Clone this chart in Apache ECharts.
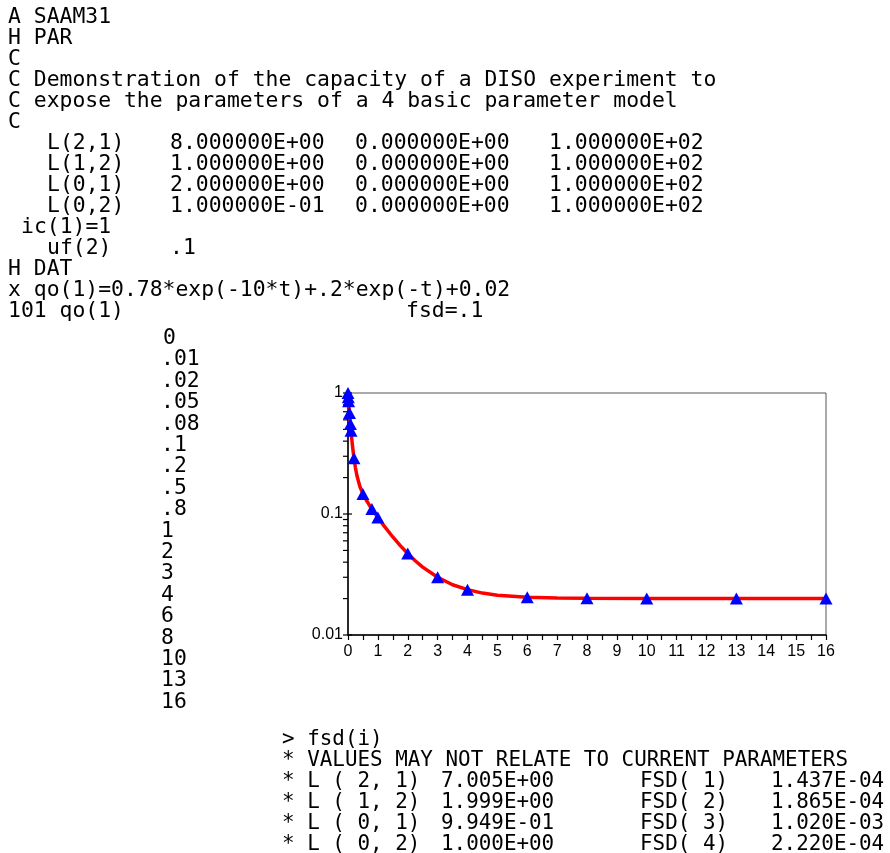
<!DOCTYPE html>
<html>
<head>
<meta charset="utf-8">
<script src="https://cdn.jsdelivr.net/npm/echarts@6/dist/echarts.min.js"></script>
<style>
html,body{margin:0;padding:0;background:#fff;}
#chart{width:890px;height:853px;}
</style>
</head>
<body>
<div id="chart"></div>
<script>
// ---- data ----
const timeLabels = ['0','.01','.02','.05','.08','.1','.2','.5','.8','1','2','3','4','6','8','10','13','16'];
const times = [0,0.01,0.02,0.05,0.08,0.1,0.2,0.5,0.8,1,2,3,4,6,8,10,13,16];
const observed = [1.000,0.924,0.855,0.683,0.555,0.488,0.289,0.1466,0.1101,0.0936,0.0471,0.0300,0.0237,0.0205,0.0201,0.0200,0.0200,0.0200];
// fitted model curve at finer time steps
const fitTimes = [0,0.01,0.02,0.03,0.04,0.05,0.06,0.08,0.1,0.12,0.15,0.2,0.25,0.3,0.4,0.5,0.6,0.7,0.8,1,1.2,1.5,1.75,2,2.25,2.5,3,3.5,4,4.5,5,6,7,8,10,13,16];
const fitValues = [1.000,0.924,0.855,0.792,0.735,0.683,0.636,0.555,0.488,0.432,0.366,0.289,0.240,0.207,0.168,0.1466,0.1317,0.1200,0.1101,0.0936,0.0802,0.0646,0.0548,0.0471,0.0411,0.0364,0.0300,0.0260,0.0237,0.0222,0.0213,0.0205,0.0202,0.0201,0.0200,0.0200,0.0200];
const yMajorTicks = [0.01,0.1,1];
const yMinorTicks = [0.02,0.03,0.04,0.05,0.06,0.07,0.08,0.09,0.2,0.3,0.4,0.5,0.6,0.7,0.8,0.9];

const headerLines = ['A SAAM31','H PAR','C','C Demonstration of the capacity of a DISO experiment to','C expose the parameters of a 4 basic parameter model','C'];
const paramNames = ['L(2,1)','L(1,2)','L(0,1)','L(0,2)'];
const paramInit  = ['8.000000E+00','1.000000E+00','2.000000E+00','1.000000E-01'];
const paramLow   = ['0.000000E+00','0.000000E+00','0.000000E+00','0.000000E+00'];
const paramHigh  = ['1.000000E+02','1.000000E+02','1.000000E+02','1.000000E+02'];
const icLine = 'ic(1)=1';
const ufName = 'uf(2)', ufValue = '.1';
const datLines = ['H DAT','x qo(1)=0.78*exp(-10*t)+.2*exp(-t)+0.02'];
const obsLine = '101 qo(1)', fsdLine = 'fsd=.1';
const resultHeader = ['> fsd(i)','* VALUES MAY NOT RELATE TO CURRENT PARAMETERS'];
const resultNames  = ['* L ( 2, 1)','* L ( 1, 2)','* L ( 0, 1)','* L ( 0, 2)'];
const resultValues = ['7.005E+00','1.999E+00','9.949E-01','1.000E+00'];
const fsdNames     = ['FSD( 1)','FSD( 2)','FSD( 3)','FSD( 4)'];
const fsdValues    = ['1.437E-04','1.865E-04','1.020E-03','2.220E-04'];

// ---- layout ----
const FONT = '"DejaVu Sans Mono", monospace';
const texts = [];
function t(str, x, y, fs){
  fs = fs || 21.4;
  texts.push({type:'text', left:x, top:y - 8, style:{text:str, font:`${fs}px ${FONT}`, fill:'#000'}, z:10});
}
const row = i => 15 + 21 * i;
headerLines.forEach((s,i)=>t(s, 8, row(i)));
paramNames.forEach((s,i)=>{
  t(s, 47, row(6+i)); t(paramInit[i], 170, row(6+i)); t(paramLow[i], 355, row(6+i)); t(paramHigh[i], 549, row(6+i));
});
t(icLine, 21, row(10));
t(ufName, 47, row(11)); t(ufValue, 170, row(11));
datLines.forEach((s,i)=>t(s, 8, row(12+i)));
t(obsLine, 8, row(14)); t(fsdLine, 406, row(14));
timeLabels.forEach((s,i)=>t(s, s==='0' ? 163 : 161, 336 + 21.4*i));
const BF = 20.9;
resultHeader.forEach((s,i)=>t(s, 282, 737 + 21*i, BF));
resultNames.forEach((s,i)=>{
  const y = 737 + 21*(2+i);
  t(s, 282, y, BF); t(resultValues[i], 441, y, BF); t(fsdNames[i], 640, y, BF); t(fsdValues[i], 771, y, BF);
});

const chart = echarts.init(document.getElementById('chart'), null, {renderer:'canvas'});
chart.setOption({
  backgroundColor:'#fff',
  animation:false,
  graphic: texts,
  grid:{left:348, top:393, width:478, height:242, show:true, borderColor:'#555', borderWidth:1, backgroundColor:'transparent'},
  xAxis:{
    type:'value', min:0, max:16, interval:1,
    axisLine:{show:true, onZero:false, lineStyle:{color:'#000', width:1.5}},
    axisTick:{show:true, length:5, lineStyle:{color:'#000', width:1.2}},
    minorTick:{show:true, splitNumber:2, length:5, lineStyle:{color:'#000', width:1.2}},
    splitLine:{show:false},
    axisLabel:{color:'#000', fontSize:16, fontFamily:'Liberation Sans, Arial', margin:9}
  },
  yAxis:{
    type:'log', logBase:10, min:0.01, max:1,
    axisLine:{show:true, lineStyle:{color:'#000', width:1.5}},
    axisTick:{show:false},
    splitLine:{show:false},
    axisLabel:{color:'#000', fontSize:16, fontFamily:'Liberation Sans, Arial', margin:5,
      formatter: v => String(+v.toPrecision(3))}
  },
  series:[
    {
      type:'custom', coordinateSystem:'cartesian2d', clip:false, silent:true,
      data: yMinorTicks.map(v=>[0,v,0]).concat(yMajorTicks.map(v=>[0,v,1])),
      renderItem:(params, api)=>{
        const p = api.coord([0, api.value(1)]);
        const major = api.value(2) === 1;
        return {type:'line', shape:{x1:p[0]-5, y1:p[1], x2:p[0]+(major?4:0), y2:p[1]},
          style:{stroke:'#000', lineWidth:1.2}};
      }
    },
    {
      type:'line', data: fitTimes.map((x,i)=>[x, fitValues[i]]),
      showSymbol:false, smooth:false,
      lineStyle:{color:'#ff0000', width:3.5}, z:3
    },
    {
      type:'scatter', data: times.map((x,i)=>[x, observed[i]]),
      symbol:'triangle', symbolSize:[13,12],
      itemStyle:{color:'#0000ff', opacity:1}, z:4
    }
  ]
});
</script>
</body>
</html>
